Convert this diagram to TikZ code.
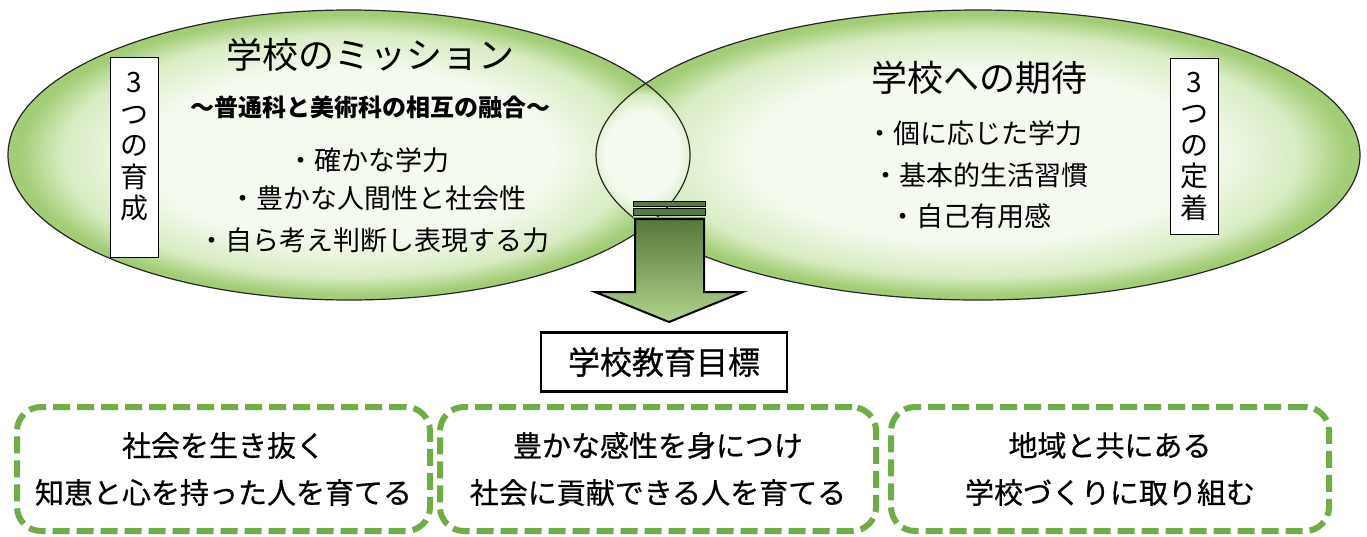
\documentclass[tikz,border=0pt]{standalone}
\usepackage{fontspec}
\setmainfont{Noto Sans CJK JP}
\newfontfamily\jpmed[FakeBold=0.6]{Noto Sans CJK JP}
\definecolor{pale}{HTML}{F4FAEE}
\definecolor{midg}{HTML}{D8ECC2}
\definecolor{edgeg}{HTML}{A2CD76}
\definecolor{dashg}{HTML}{70AD47}
\definecolor{arrtop}{HTML}{56773A}
\definecolor{arrbot}{HTML}{B0D48C}
\definecolor{lidg}{HTML}{587A3E}
\pgfdeclareradialshading{bubble}{\pgfpoint{0bp}{0bp}}{color(0bp)=(pale); color(15bp)=(pale); color(21bp)=(midg); color(24.2bp)=(edgeg); color(25bp)=(edgeg); color(50bp)=(edgeg)}
\tikzset{
  bubblefill/.style={shade, shading=bubble},
  outline/.style={draw=black!85, line width=1.2pt},
  titletext/.style={font=\fontsize{36}{40}\selectfont, inner sep=0pt},
  subtext/.style={font=\bfseries\fontsize{24}{26}\selectfont, inner sep=0pt},
  itemtext/.style={font=\fontsize{27}{30}\selectfont, inner sep=0pt},
  vbox/.style={draw=black, line width=1pt, fill=white, inner sep=0pt, minimum width=48pt},
  vtext/.style={align=center, font=\fontsize{28}{31.5}\selectfont, inner sep=0pt},
  goalbox/.style={draw=black, line width=2.5pt, fill=white, font=\jpmed\fontsize{32}{34}\selectfont, minimum width=246pt, minimum height=59pt, inner sep=0pt},
  dashbox/.style={draw=dashg, line width=6pt, dash pattern=on 17pt off 7pt, rounded corners=24pt, align=center, font=\jpmed\fontsize{29}{47}\selectfont, inner sep=0pt},
}
\begin{document}
\begin{tikzpicture}[x=1pt,y=-1pt]
\useasboundingbox (0,0) rectangle (1367,536);
% ellipses
\path[bubblefill] (349,155) ellipse [x radius=341, y radius=145];
\path[bubblefill] (978,155) ellipse [x radius=382, y radius=145];
% lens
\path[bubblefill] (645.66,83.5) arc[start angle=209.54, end angle=150.46, x radius=382, y radius=145]
   arc[start angle=29.54, end angle=-29.54, x radius=341, y radius=145] -- cycle;
\draw[outline] (349,155) ellipse [x radius=341, y radius=145];
\draw[outline] (978,155) ellipse [x radius=382, y radius=145];
% arrow lid
\draw[line width=1pt, fill=lidg] (633,201) rectangle (705,206);
\draw[line width=1pt, fill=lidg] (633,208) rectangle (705,215);
\draw[line width=0.8pt, draw=black!40] (633,217) -- (705,217);
% arrow body
\draw[line width=2pt, top color=arrtop, bottom color=arrbot]
  (635,219) -- (704,219) -- (704,292) -- (743,292) -- (669,322) -- (595,292) -- (635,292) -- cycle;
% texts left
\node[titletext] (t1) at (370,55) {学校のミッション};
\node[subtext] (s1) at (370,107) {〜普通科と美術科の相互の融合〜};
\node[itemtext] (a1) at (368,160) {・確かな学力};
\node[itemtext] (a2) at (378,198) {・豊かな人間性と社会性};
\node[itemtext] (a3) at (374,240) {・自ら考え判断し表現する力};
\node[vbox, minimum height=200pt] (v1) at (134,157) {};
\node[vtext] (v1t) at (134,147) {3\\つ\\の\\育\\成};
% texts right
\node[titletext] (t2) at (979,78) {学校への期待};
\node[itemtext] (b1) at (974,133) {・個に応じた学力};
\node[itemtext] (b2) at (980,175) {・基本的生活習慣};
\node[itemtext] (b3) at (970,216) {・自己有用感};
\node[vbox, minimum height=176pt] (v2) at (1194,146) {};
\node[vtext] (v2t) at (1194,146) {3\\つ\\の\\定\\着};
% goal
\node[goalbox] (goal) at (664,362) {学校教育目標};
% bottom boxes
\node[dashbox, minimum width=413pt, minimum height=124pt] (g1) at (223.5,469) {社会を生き抜く\\知恵と心を持った人を育てる};
\node[dashbox, minimum width=436pt, minimum height=124pt] (g2) at (658,469) {豊かな感性を身につけ\\社会に貢献できる人を育てる};
\node[dashbox, minimum width=438pt, minimum height=124pt] (g3) at (1110,469) {地域と共にある\\学校づくりに取り組む};
\end{tikzpicture}
\end{document}
